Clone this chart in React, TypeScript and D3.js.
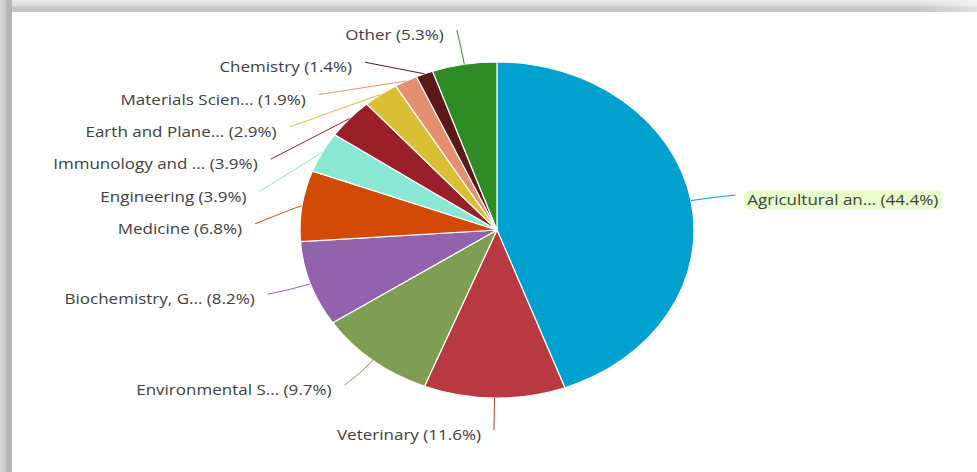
import React, { useLayoutEffect, useRef, useState } from 'react'
import * as d3 from 'd3'

// subject areas, clockwise from 12 o'clock
const categories = [
  'Agricultural an...',
  'Veterinary',
  'Environmental S...',
  'Biochemistry, G...',
  'Medicine',
  'Engineering',
  'Immunology and ...',
  'Earth and Plane...',
  'Materials Scien...',
  'Chemistry',
  'Other'
]
const shares = [44.4, 11.6, 9.7, 8.2, 6.8, 3.9, 3.9, 2.9, 1.9, 1.4, 5.3]
const colors = [
  '#00a0cf', '#b8393f', '#7e9e54', '#9362ad', '#d34a06', '#89e8d4',
  '#9b1f29', '#d9bf34', '#e48f72', '#5a181b', '#2e8a22'
]
const highlighted = 'Agricultural an...'

const width = 977
const height = 472
const cx = 497
const cy = 230
const rx = 197
const ry = 168
const stretch = rx / ry // the picture is wider than tall
const labelRx = 242
const labelRy = 200
const slot = 32.3

// push labels apart vertically, keeping each group centred on its natural spot
function spread(ys: number[], lo: number, hi: number, gap: number) {
  const groups: { members: number[]; start: number }[] = []
  ys.forEach((y) => {
    groups.push({ members: [y], start: y })
    while (true) {
      const last = groups[groups.length - 1]
      const n = last.members.length
      const ideal = d3.mean(last.members, (v, k) => v - k * gap) as number
      last.start = Math.max(lo, Math.min(hi - (n - 1) * gap, ideal))
      if (groups.length > 1) {
        const prev = groups[groups.length - 2]
        if (prev.start + prev.members.length * gap > last.start) {
          prev.members = prev.members.concat(last.members)
          groups.pop()
          continue
        }
      }
      break
    }
  })
  const out: number[] = []
  groups.forEach((g) => g.members.forEach((_, k) => out.push(g.start + k * gap)))
  return out
}

const onEllipse = (a: number, ex: number, ey: number) => [cx + ex * Math.sin(a), cy - ey * Math.cos(a)]

// leader line: straight, bending towards the radial direction only when the label sits roughly outward
function leader(end: number[], edge: number[], mid: number) {
  let ux = rx * Math.sin(mid)
  let uy = -ry * Math.cos(mid)
  const un = Math.hypot(ux, uy)
  ux /= un
  uy /= un
  const dx = end[0] - edge[0]
  const dy = end[1] - edge[1]
  const len = Math.hypot(dx, dy)
  const proj = dx * ux + dy * uy
  const w = Math.pow(Math.max(0, proj / len), 20)
  const k = proj * 0.5 * w
  const ctrl = [edge[0] + ux * k, edge[1] + uy * k]
  return `M${end[0]},${end[1]}Q${ctrl[0]},${ctrl[1]} ${edge[0]},${edge[1]}`
}

export default function App() {
  const pie = d3.pie<number>().sort(null).value((d) => d)
  const arcs = pie(shares)
  const arc = d3.arc<d3.PieArcDatum<number>>().innerRadius(0).outerRadius(ry)

  const items = arcs.map((a, i) => {
    const mid = (a.startAngle + a.endAngle) / 2
    const side = Math.sin(mid) >= 0 ? 1 : -1
    const natural = onEllipse(mid, labelRx, labelRy)
    return { i, mid, side, natural, edge: onEllipse(mid, rx, ry), y: natural[1], x: natural[0] }
  })

  ;[1, -1].forEach((side) => {
    const group = items.filter((d) => d.side === side).sort((a, b) => a.natural[1] - b.natural[1])
    const ys = spread(group.map((d) => d.natural[1]), cy - labelRy, cy + labelRy, slot)
    group.forEach((d, k) => {
      d.y = ys[k]
      const t = Math.max(0, 1 - ((d.y - cy) / labelRy) ** 2)
      const ex = cx + side * labelRx * Math.sqrt(t)
      d.x = side > 0 ? Math.max(ex, d.natural[0]) : Math.min(ex, d.natural[0])
    })
  })

  const hiRef = useRef<SVGTextElement>(null)
  const [box, setBox] = useState<DOMRect | null>(null)
  useLayoutEffect(() => {
    if (hiRef.current) setBox(hiRef.current.getBBox())
  }, [])

  return (
    <svg width={width} height={height} style={{ position: 'absolute', left: 0, top: 0, background: '#fff' }}>
      <defs>
        <linearGradient id="frameTop" x1="0" y1="0" x2="0" y2="1">
          <stop offset="0" stopColor="#e8e8e8" />
          <stop offset="0.45" stopColor="#dedede" />
          <stop offset="0.55" stopColor="#c9c9c9" />
          <stop offset="1" stopColor="#c3c3c3" />
        </linearGradient>
        <linearGradient id="frameLeft" x1="0" y1="0" x2="1" y2="0">
          <stop offset="0" stopColor="#d6d6d6" />
          <stop offset="0.45" stopColor="#cdcdcd" />
          <stop offset="0.55" stopColor="#b9b9b9" />
          <stop offset="1" stopColor="#b4b4b4" />
        </linearGradient>
        <linearGradient id="fadeRight" x1="0" y1="0" x2="1" y2="0">
          <stop offset="0" stopColor="#fff" stopOpacity="0" />
          <stop offset="1" stopColor="#fff" stopOpacity="0.5" />
        </linearGradient>
      </defs>
      <rect x={0} y={0} width={width} height={12} fill="url(#frameTop)" />
      <rect x={width - 60} y={0} width={60} height={12} fill="url(#fadeRight)" />
      <rect x={0} y={0} width={12} height={height} fill="url(#frameLeft)" />

      <g transform={`translate(${cx},${cy}) scale(${stretch},1)`}>
        {arcs.map((a, i) => (
          <path key={i} d={arc(a) || ''} fill={colors[i]} stroke="#fff" strokeWidth={1.2} vectorEffect="non-scaling-stroke" />
        ))}
      </g>

      <g fill="none" strokeWidth={1}>
        {items.map((d) => (
          <path key={d.i} d={leader([d.x, d.y], d.edge, d.mid)} stroke={colors[d.i]} />
        ))}
      </g>

      <g fontFamily="'Open Sans', sans-serif" fontSize={14.5} fill="#404040">
        {items.map((d) => {
          const tx = d.side > 0 ? d.x + 12 : d.x - 13
          const isHi = categories[d.i] === highlighted
          return (
            <g key={d.i} transform={`translate(${tx},${d.y + 5}) scale(${stretch},1)`}>
              {isHi && box && (
                <rect x={box.x - 3} y={box.y + 1} width={box.width + 6} height={box.height - 1} rx={4} fill="#e6fccb" />
              )}
              <text ref={isHi ? hiRef : undefined} dy="0.35em" textAnchor={d.side > 0 ? 'start' : 'end'}>
                {`${categories[d.i]} (${shares[d.i]}%)`}
              </text>
            </g>
          )
        })}
      </g>
    </svg>
  )
}
